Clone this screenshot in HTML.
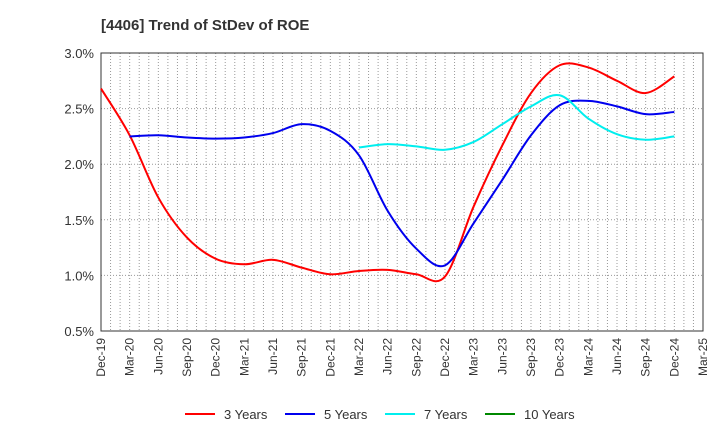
<!DOCTYPE html>
<html><head><meta charset="utf-8"><style>
body{margin:0;background:#fff;font-family:"Liberation Sans",sans-serif;}
svg text{font-family:"Liberation Sans",sans-serif;}
</style></head><body>
<svg id="chart" width="720" height="440" xmlns="http://www.w3.org/2000/svg">
<text x="101" y="30" font-size="15" font-weight="bold" fill="#333">[4406]  Trend of StDev of ROE</text>
<g id="grid"></g><g id="axes"></g><g id="series"></g><g id="legend"></g>
</svg>
<script>
const xLabels=["Dec-19","Mar-20","Jun-20","Sep-20","Dec-20","Mar-21","Jun-21","Sep-21","Dec-21","Mar-22","Jun-22","Sep-22","Dec-22","Mar-23","Jun-23","Sep-23","Dec-23","Mar-24","Jun-24","Sep-24","Dec-24","Mar-25"];
const yTicks=[0.5,1.0,1.5,2.0,2.5,3.0];
const y3=[2.68,2.26,1.70,1.34,1.15,1.10,1.14,1.07,1.01,1.04,1.05,1.01,0.99,1.62,2.17,2.64,2.89,2.87,2.75,2.64,2.79];
const y5=[null,2.25,2.26,2.24,2.23,2.24,2.28,2.36,2.30,2.08,1.58,1.24,1.09,1.47,1.86,2.26,2.53,2.57,2.52,2.45,2.47];
const y7=[null,null,null,null,null,null,null,null,null,2.15,2.18,2.16,2.13,2.20,2.36,2.52,2.62,2.41,2.27,2.22,2.25];
const y10=[];
const seriesNames=["3 Years","5 Years","7 Years","10 Years"];
const colors=["#ff0000","#0000ee","#00eeee","#008800"];
const L=101,R=703,T=53,B=331,NS="http://www.w3.org/2000/svg";
const xs=i=>L+(R-L)*i/(xLabels.length-1);
const ys=v=>B-(v-0.5)/2.5*(B-T);
function mk(t,a,p){const e=document.createElementNS(NS,t);for(const k in a)e.setAttribute(k,a[k]);p.appendChild(e);return e;}
const grid=document.getElementById('grid'),axes=document.getElementById('axes'),ser=document.getElementById('series'),leg=document.getElementById('legend');
for(let m=1;m<(xLabels.length-1)*3;m++){const x=L+(R-L)*m/((xLabels.length-1)*3);
const g=mk('line',{x1:x,x2:x,y1:T,y2:B,stroke:'#999','stroke-dasharray':'1,2','stroke-width':1},grid);

}
yTicks.forEach(v=>{const y=ys(v);
const g=mk('line',{x1:L,x2:R,y1:y,y2:y,stroke:'#999','stroke-dasharray':'1,2','stroke-width':1},grid);


const t=mk('text',{x:L-7,y:y+5,'text-anchor':'end','font-size':13,fill:'#333'},axes);t.textContent=v.toFixed(1)+'%';

});
const fr=mk('rect',{x:L,y:T,width:R-L,height:B-T,fill:'none',stroke:'#333','stroke-width':1},axes);


xLabels.forEach((l,i)=>{const x=xs(i);
const t=mk('text',{x:0,y:0,'text-anchor':'end','font-size':12,fill:'#333',transform:`translate(${x+4},${B+7}) rotate(-90)`},axes);t.textContent=l;

});
function path(pts){let d=`M${pts[0][0]},${pts[0][1]}`;for(let i=0;i<pts.length-1;i++){const p0=pts[i-1]||pts[i],p1=pts[i],p2=pts[i+1],p3=pts[i+2]||p2;const t=6;
d+=` C${p1[0]+(p2[0]-p0[0])/t},${p1[1]+(p2[1]-p0[1])/t} ${p2[0]-(p3[0]-p1[0])/t},${p2[1]-(p3[1]-p1[1])/t} ${p2[0]},${p2[1]}`;}return d;}
[y3,y5,y7,y10].forEach((arr,k)=>{const pts=[];arr.forEach((v,i)=>{if(v!=null)pts.push([xs(i),ys(v)]);});
if(pts.length>1){const p=mk('path',{d:path(pts),fill:'none',stroke:colors[k],'stroke-width':2},ser);

}
const lx=185+k*100;
const ll=mk('line',{x1:lx,x2:lx+30,y1:414,y2:414,stroke:colors[k],'stroke-width':2},leg);


const lt=mk('text',{x:lx+39,y:419,'font-size':13,fill:'#333'},leg);lt.textContent=seriesNames[k];

});
</script>
</body></html>
